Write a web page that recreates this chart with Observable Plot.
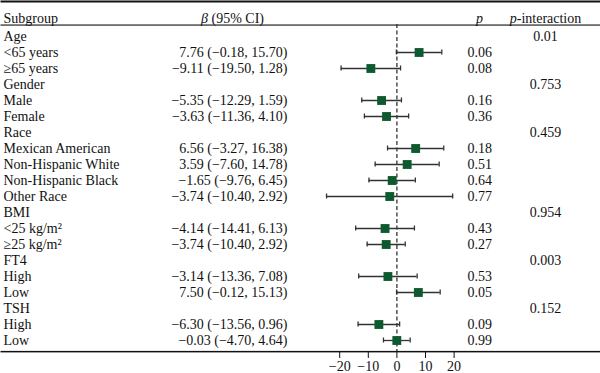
<!DOCTYPE html>
<html><head><meta charset="utf-8">
<script src="https://cdn.jsdelivr.net/npm/d3@7"></script>
<script src="https://cdn.jsdelivr.net/npm/@observablehq/plot@0.6"></script>
<style>body{margin:0;background:#fff}</style>
</head><body><div id="chart"></div>
<script>
const subgroups = ["Age","<65 years","≥65 years","Gender","Male","Female","Race","Mexican American","Non-Hispanic White","Non-Hispanic Black","Other Race","BMI","<25 kg/m²","≥25 kg/m²","FT4","High","Low","TSH","High","Low"];
const betaText = ["","7.76 (−0.18, 15.70)","−9.11 (−19.50, 1.28)","","−5.35 (−12.29, 1.59)","−3.63 (−11.36, 4.10)","","6.56 (−3.27, 16.38)","3.59 (−7.60, 14.78)","−1.65 (−9.76, 6.45)","−3.74 (−10.40, 2.92)","","−4.14 (−14.41, 6.13)","−3.74 (−10.40, 2.92)","","−3.14 (−13.36, 7.08)","7.50 (−0.12, 15.13)","","−6.30 (−13.56, 0.96)","−0.03 (−4.70, 4.64)"];
const est = [null,7.76,-9.11,null,-5.35,-3.63,null,6.56,3.59,-1.65,-2.5,null,-4.14,-3.74,null,-3.14,7.50,null,-6.30,-0.03];
const lo  = [null,-0.18,-19.50,null,-12.29,-11.36,null,-3.27,-7.60,-9.76,-24.6,null,-14.41,-10.40,null,-13.36,-0.12,null,-13.56,-4.70];
const hi  = [null,15.70,1.28,null,1.59,4.10,null,16.38,14.78,6.45,19.5,null,6.13,2.92,null,7.08,15.13,null,0.96,4.64];
const pText = ["","0.06","0.08","","0.16","0.36","","0.18","0.51","0.64","0.77","","0.43","0.27","","0.53","0.05","","0.09","0.99"];
const pInter = ["0.01","","","0.753","","","0.459","","","","","0.954","","","0.003","","","0.152","",""];
const xTicks = [-20,-10,0,10,20];

const rows = subgroups.map((s,i)=>({i, s, beta: betaText[i], est: est[i], lo: lo[i], hi: hi[i], p: pText[i], pi: pInter[i]}));
const ci = rows.filter(d => d.est != null);
const FONT = "'Liberation Serif', 'Times New Roman', serif";
const INK = "#111";
const LINE = "#333";
const H = 373, MB = 22, FRAME_H = H - MB; // frame spans 0..351

const plot = Plot.plot({
  width: 600, height: H,
  marginTop: 0, marginBottom: MB, marginLeft: 0, marginRight: 0,
  style: {fontFamily: FONT, fontSize: "14px", color: INK, background: "#fff"},
  x: {domain: [-20, 20], range: [339.2, 453.6]},
  y: {type: "band", domain: d3.range(rows.length), range: [24.2, 352.6], padding: 0, axis: null},
  marks: [
    // table rules (top, below header, bottom)
    Plot.frame({fill: INK, stroke: "none", insetBottom: FRAME_H - 2}),
    Plot.frame({fill: INK, stroke: "none", insetTop: 24, insetBottom: FRAME_H - 25.1}),
    Plot.frame({fill: INK, stroke: "none", insetTop: FRAME_H - 0.6, insetBottom: -0.9}),
    Plot.ruleX([0], {insetTop: 24, stroke: LINE, strokeDasharray: "4,2.5", strokeWidth: 1.3}),
    Plot.ruleY(ci, {y: "i", x1: "lo", x2: "hi", stroke: LINE, strokeWidth: 1.3}),
    Plot.tickX(ci, {y: "i", x: "lo", stroke: LINE, strokeWidth: 1.3, insetTop: 5.5, insetBottom: 5.5}),
    Plot.tickX(ci, {y: "i", x: "hi", stroke: LINE, strokeWidth: 1.3, insetTop: 5.5, insetBottom: 5.5}),
    Plot.dot(ci, {y: "i", x: "est", symbol: "square", r: 5, fill: "#0d5a2f", stroke: "none"}),
    Plot.text(rows, {y: "i", text: "s", frameAnchor: "left", textAnchor: "start", dx: 3, fill: INK, fontSize: 14}),
    Plot.text(rows, {y: "i", text: "beta", frameAnchor: "left", textAnchor: "end", dx: 287, fill: INK, fontSize: 14}),
    Plot.text(rows, {y: "i", text: "p", frameAnchor: "left", textAnchor: "start", dx: 467, fill: INK, fontSize: 14}),
    Plot.text(rows, {y: "i", text: "pi", frameAnchor: "left", textAnchor: "middle", dx: 545, fill: INK, fontSize: 14}),
    Plot.text(["Subgroup"], {text: d => d, frameAnchor: "top-left", dx: 3, dy: 13, textAnchor: "start", fill: INK, fontSize: 14}),
    Plot.text(["β (95% CI)"], {text: d => d, frameAnchor: "top-left", dx: 232, dy: 13, textAnchor: "middle", fill: INK, fontSize: 14}),
    Plot.text(["p"], {text: d => d, frameAnchor: "top-left", dx: 479, dy: 13, textAnchor: "middle", fontStyle: "italic", fill: INK, fontSize: 14}),
    Plot.text(["p-interaction"], {text: d => d, frameAnchor: "top-left", dx: 545, dy: 13, textAnchor: "middle", fill: INK, fontSize: 14}),
    Plot.axisX({ticks: xTicks, tickSize: 7, tickPadding: 3, label: null, fontSize: 14, stroke: INK, fill: INK})
  ]
});

d3.select(plot).selectAll("text").each(function() {
  const t = this.textContent;
  const el = d3.select(this);
  if (t === "β (95% CI)") {
    el.text(null);
    el.append("tspan").attr("font-style", "italic").text("β");
    el.append("tspan").text(" (95% CI)");
  } else if (t === "p-interaction") {
    el.text(null);
    el.append("tspan").attr("font-style", "italic").text("p");
    el.append("tspan").text("-interaction");
  }
});

document.getElementById("chart").appendChild(plot);
</script>
</body></html>
